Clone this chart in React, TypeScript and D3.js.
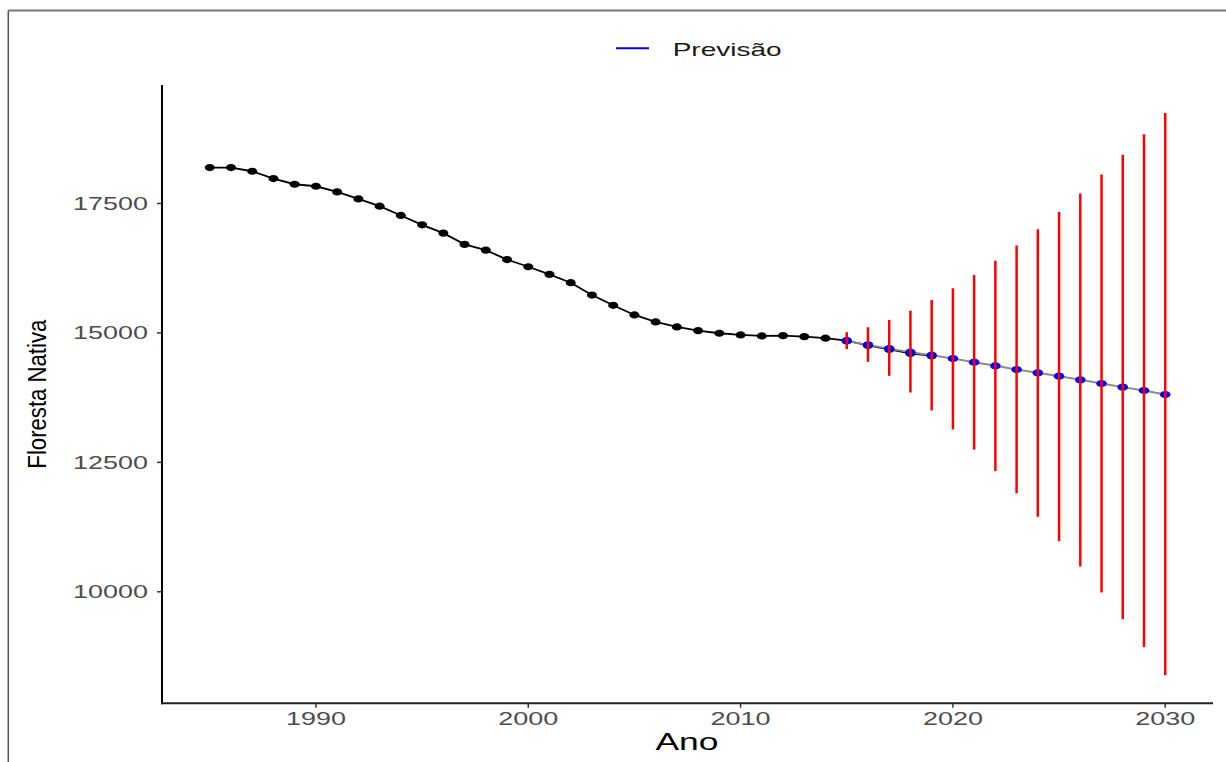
import React from "react";
import * as d3 from "d3";

const histYears = [1985, 1986, 1987, 1988, 1989, 1990, 1991, 1992, 1993, 1994, 1995, 1996, 1997, 1998, 1999, 2000, 2001, 2002, 2003, 2004, 2005, 2006, 2007, 2008, 2009, 2010, 2011, 2012, 2013, 2014, 2015, 2016, 2017, 2018, 2019];
const histValues = [18194, 18194, 18123, 17982, 17872, 17833, 17724, 17589, 17448, 17269, 17088, 16928, 16710, 16600, 16417, 16278, 16131, 15970, 15732, 15534, 15347, 15212, 15116, 15044, 14994, 14961, 14942, 14948, 14929, 14898, 14852, 14759, 14682, 14605, 14557];

const fcYears = [2015, 2016, 2017, 2018, 2019, 2020, 2021, 2022, 2023, 2024, 2025, 2026, 2027, 2028, 2029, 2030];
const fcValues = [14846, 14769, 14697, 14628, 14570, 14505, 14435, 14364, 14293, 14229, 14165, 14094, 14023, 13953, 13888, 13811];
const fcLower = [14686, 14441, 14171, 13849, 13502, 13136, 12745, 12334, 11902, 11448, 10977, 10490, 9988, 9468, 8934, 8389];
const fcUpper = [15014, 15110, 15251, 15430, 15636, 15862, 16118, 16394, 16690, 17005, 17338, 17693, 18059, 18444, 18836, 19246];

const xTicks = [1990, 2000, 2010, 2020, 2030];
const yTicks = [10000, 12500, 15000, 17500];

const legendLabel = "Previsão";
const xTitle = "Ano";
const yTitle = "Floresta Nativa";

const FONT = "'Liberation Sans', Arial, Helvetica, sans-serif";

function expand(lo: number, hi: number): [number, number] {
  const pad = (hi - lo) * 0.05;
  return [lo - pad, hi + pad];
}

export default function App() {
  const W = 1226;
  const H = 762;
  const left = 162;
  const right = 1213;
  const top = 85;
  const bottom = 703.3;

  const allYears = [...histYears, ...fcYears];
  const xDom = expand(d3.min(allYears)!, d3.max(allYears)!);
  const allVals = [...histValues, ...fcValues, ...fcLower, ...fcUpper];
  const yDom = expand(d3.min(allVals)!, d3.max(allVals)!);

  const x = d3.scaleLinear().domain(xDom).range([left, right]);
  const y = d3.scaleLinear().domain(yDom).range([bottom, top]);

  const hist = histYears.map((yr, i) => ({ yr, v: histValues[i] }));
  const fc = fcYears.map((yr, i) => ({ yr, v: fcValues[i], lo: fcLower[i], hi: fcUpper[i] }));

  const line = d3
    .line<{ yr: number; v: number }>()
    .x((d) => x(d.yr))
    .y((d) => y(d.v));

  return (
    <svg
      width={W}
      height={H}
      style={{ position: "absolute", left: 0, top: 0, background: "#fff" }}
    >
      <rect x={0} y={0} width={W} height={H} fill="#fff" />
      {/* outer frame */}
      <line x1={8.3} y1={10.5} x2={W} y2={10.5} stroke="#777" strokeWidth={2} />
      <line x1={8.3} y1={10.5} x2={8.3} y2={H} stroke="#555" strokeWidth={1.5} />

      {/* legend */}
      <line x1={616} y1={48.3} x2={649} y2={48.3} stroke="#0000ff" strokeWidth={2} />
      <text
        x={672.7}
        y={56}
        fontFamily={FONT}
        fontSize={18.6}
        fill="#1a1a1a"
        textLength={109}
        lengthAdjust="spacingAndGlyphs"
      >
        {legendLabel}
      </text>

      {/* axes */}
      <line x1={left} y1={top} x2={left} y2={bottom + 1} stroke="#000" strokeWidth={2} />
      <line x1={left - 1} y1={bottom} x2={right} y2={bottom} stroke="#222" strokeWidth={2} />

      {yTicks.map((t) => (
        <g key={"y" + t}>
          <line x1={left - 5} x2={left} y1={y(t)} y2={y(t)} stroke="#333" strokeWidth={1.5} />
          <text
            x={148}
            y={y(t) + 6.5}
            textAnchor="end"
            fontFamily={FONT}
            fontSize={18}
            fill="#4d4d4d"
            textLength={75}
            lengthAdjust="spacingAndGlyphs"
          >
            {t}
          </text>
        </g>
      ))}

      {xTicks.map((t) => (
        <g key={"x" + t}>
          <line x1={x(t)} x2={x(t)} y1={bottom} y2={bottom + 4.5} stroke="#333" strokeWidth={1.5} />
          <text
            x={x(t)}
            y={725}
            textAnchor="middle"
            fontFamily={FONT}
            fontSize={18}
            fill="#4d4d4d"
            textLength={60}
            lengthAdjust="spacingAndGlyphs"
          >
            {t}
          </text>
        </g>
      ))}

      {/* axis titles */}
      <text
        x={(left + right) / 2 - 0.5}
        y={749.5}
        textAnchor="middle"
        fontFamily={FONT}
        fontSize={23}
        fill="#000"
        textLength={63}
        lengthAdjust="spacingAndGlyphs"
      >
        {xTitle}
      </text>
      <text
        transform={`translate(46, ${(top + bottom) / 2}) rotate(-90)`}
        textAnchor="middle"
        fontFamily={FONT}
        fontSize={25}
        fill="#000"
        textLength={149}
        lengthAdjust="spacingAndGlyphs"
      >
        {yTitle}
      </text>

      {/* historical series */}
      <path d={line(hist) || ""} fill="none" stroke="#000" strokeWidth={1.8} />
      {hist.map((d) => (
        <ellipse key={"h" + d.yr} cx={x(d.yr)} cy={y(d.v)} rx={5} ry={3.6} fill="#000" />
      ))}

      {/* forecast */}
      <path d={line(fc) || ""} fill="none" stroke="#8c8c8c" strokeWidth={2} />
      {fc.map((d) => (
        <ellipse key={"f" + d.yr} cx={x(d.yr)} cy={y(d.v)} rx={5.3} ry={3.6} fill="#0000ff" />
      ))}
      {fc.map((d) => (
        <line
          key={"e" + d.yr}
          x1={x(d.yr)}
          x2={x(d.yr)}
          y1={y(d.lo)}
          y2={y(d.hi)}
          stroke="#ff0000"
          strokeWidth={2.5}
        />
      ))}
    </svg>
  );
}
